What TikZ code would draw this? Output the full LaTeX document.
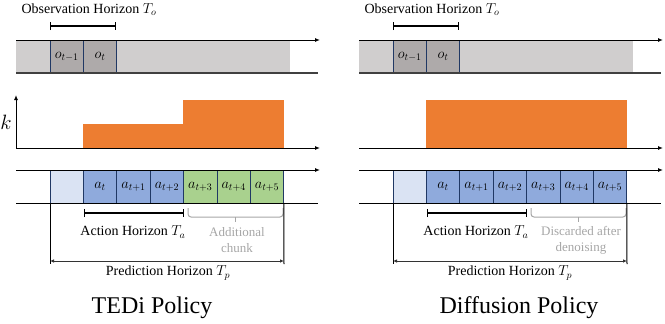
\documentclass[tikz,border=0pt]{standalone}
\usepackage{xcolor}
\usepackage{fontspec}
\setmainfont{Liberation Serif}
\usepackage{tikz}
\usetikzlibrary{arrows.meta,calc,positioning}
\definecolor{stripgray}{HTML}{D0CECE}
\definecolor{obsgray}{HTML}{AEAAAA}
\definecolor{navy}{HTML}{203864}
\definecolor{kfill}{HTML}{ED7D31}
\definecolor{actblue}{HTML}{8FAADC}
\definecolor{paleblue}{HTML}{DAE3F3}
\definecolor{actgreen}{HTML}{A9D18E}
\definecolor{notegray}{HTML}{A6A6A6}

\begin{document}
\begin{tikzpicture}[
        x=1pt, y=-1pt,
        font=\rmfamily\fontsize{14}{17}\selectfont,
        strip/.style={
            fill=stripgray,
            minimum width=274pt,
            minimum height=33pt,
            inner sep=0pt,
            outer sep=0pt,
            anchor=north west
        },
        cell/.style={
            draw=navy,
            line width=0.9pt,
            minimum width=33.4pt,
            minimum height=33pt,
            inner sep=0pt,
            outer sep=0pt,
            font=\fontsize{14.5}{16}\selectfont
        },
        obscell/.style={cell, fill=obsgray},
        fadecell/.style={cell, fill=paleblue},
        actcell/.style={cell, fill=actblue},
        chunkcell/.style={cell, fill=actgreen},
        kblock/.style={
            fill=kfill,
            inner sep=0pt,
            outer sep=0pt,
            anchor=south west
        },
        timeline/.style={
            -{Latex[length=5pt,width=4pt]},
            line width=1pt
        },
        baseline/.style={
            draw=black!75,
            line width=2pt
        },
        span/.style={
            {Bar[width=8pt]}-{Bar[width=8pt]},
            line width=1.2pt
        },
        chunkbrace/.style={
            draw=notegray,
            line width=1pt,
            rounded corners=3pt
        },
        predarrow/.style={
            {Latex[length=4pt,width=3.5pt]}-{Latex[length=4pt,width=3.5pt]},
            draw=black!80,
            line width=1pt
        },
        note/.style={
            text=notegray,
            align=center,
            font=\rmfamily\fontsize{13}{16}\selectfont
        },
        title/.style={font=\rmfamily\fontsize{24}{28}\selectfont}
    ]

        \useasboundingbox (0,0) rectangle (665,324);

        % ===== TEDi Policy =====
        % Beobachtungen
        \node[strip] (tedi-strip) at (16,40) {};
        \node[obscell, anchor=west] (tedi-o1) at (50,56.5) {$o_{t-1}$};
        \node[obscell, right=0pt of tedi-o1] (tedi-o2) {$o_t$};

        \coordinate (tedi-top-r) at (320,40);
        \coordinate (tedi-bot-r) at (318,73);
        \draw[timeline] (tedi-strip.north west) -- (tedi-top-r);
        \draw[baseline] (tedi-strip.south west) -- (tedi-bot-r);

        \coordinate (tedi-obs-l) at (50,26);
        \coordinate (tedi-obs-r) at (116,26);
        \draw[span] (tedi-obs-l) -- (tedi-obs-r);
        \node (tedi-obs-label) at (89,10) {Observation Horizon $T_o$};

        % Rauschniveau k
        \node[kblock, minimum width=100pt, minimum height=24pt]
            (tedi-k1) at (83,148) {};
        \node[kblock, minimum width=101pt, minimum height=48pt]
            (tedi-k2) at (183,148) {};

        \coordinate (tedi-origin) at (16,148);
        \coordinate (tedi-kx) at (320,148);
        \coordinate (tedi-ky) at (16,95);
        \draw[timeline] (tedi-origin) -- (tedi-kx);
        \draw[timeline] (tedi-origin) -- (tedi-ky);
        \node[font=\fontsize{21}{24}\selectfont] (tedi-k) at (6,122) {$k$};

        % Aktionen
        \node[fadecell, anchor=west] (tedi-a0) at (50,186.5) {};
        \node[actcell, right=0pt of tedi-a0] (tedi-a1) {$a_t$};
        \node[actcell, right=0pt of tedi-a1] (tedi-a2) {$a_{t+1}$};
        \node[actcell, right=0pt of tedi-a2] (tedi-a3) {$a_{t+2}$};
        \node[chunkcell, right=0pt of tedi-a3] (tedi-a4) {$a_{t+3}$};
        \node[chunkcell, right=0pt of tedi-a4] (tedi-a5) {$a_{t+4}$};
        \node[chunkcell, right=0pt of tedi-a5] (tedi-a6) {$a_{t+5}$};

        \coordinate (tedi-act-l) at (16,170);
        \coordinate (tedi-act-r) at (320,170);
        \coordinate (tedi-act-bl) at (16,203);
        \coordinate (tedi-act-br) at (318,203);
        \draw[timeline] (tedi-act-l) -- (tedi-act-r);
        \draw[line width=1pt] (tedi-act-bl) -- (tedi-act-br);

        \coordinate (tedi-ah-l) at (84,213);
        \coordinate (tedi-ah-r) at (184,213);
        \draw[span] (tedi-ah-l) -- (tedi-ah-r);
        \node (tedi-ah-label) at (133,232) {Action Horizon $T_a$};

        \coordinate (tedi-cb-l) at (188,208);
        \coordinate (tedi-cb-m) at (235,217);
        \coordinate (tedi-cb-r) at (283,208);
        \coordinate (tedi-cb-t) at (235,222);
        \draw[chunkbrace] (tedi-cb-l) |- (tedi-cb-m) -| (tedi-cb-r);
        \draw[chunkbrace] (tedi-cb-m) -- (tedi-cb-t);
        \node[note] (tedi-chunk) at (237,240) {Additional\\chunk};

        % Vorhersagehorizont
        \coordinate (tedi-ph-l) at (50,264);
        \coordinate (tedi-ph-r) at (284,264);
        \draw[line width=1pt] (tedi-a0.south west) -- (tedi-ph-l);
        \draw[line width=1pt] (tedi-a6.south east) -- (tedi-ph-r);
        \coordinate (tedi-pa-l) at (50,261);
        \coordinate (tedi-pa-r) at (284,261);
        \draw[predarrow] (tedi-pa-l) -- (tedi-pa-r);
        \node (tedi-ph-label) at (168,273) {Prediction Horizon $T_p$};

        \node[title] (tedi-title) at (152,308) {TEDi Policy};

        % ===== Diffusion Policy =====
        % Beobachtungen
        \node[strip] (dp-strip) at (359,40) {};
        \node[obscell, anchor=west] (dp-o1) at (393,56.5) {$o_{t-1}$};
        \node[obscell, right=0pt of dp-o1] (dp-o2) {$o_t$};

        \coordinate (dp-top-r) at (663,40);
        \coordinate (dp-bot-r) at (661,73);
        \draw[timeline] (dp-strip.north west) -- (dp-top-r);
        \draw[baseline] (dp-strip.south west) -- (dp-bot-r);

        \coordinate (dp-obs-l) at (393,26);
        \coordinate (dp-obs-r) at (459,26);
        \draw[span] (dp-obs-l) -- (dp-obs-r);
        \node (dp-obs-label) at (432,10) {Observation Horizon $T_o$};

        % Rauschniveau
        \node[kblock, minimum width=201pt, minimum height=48pt]
            (dp-k1) at (426,148) {};
        \coordinate (dp-origin) at (359,148);
        \coordinate (dp-kx) at (663,148);
        \draw[timeline] (dp-origin) -- (dp-kx);

        % Aktionen
        \node[fadecell, anchor=west] (dp-a0) at (393,186.5) {};
        \node[actcell, right=0pt of dp-a0] (dp-a1) {$a_t$};
        \node[actcell, right=0pt of dp-a1] (dp-a2) {$a_{t+1}$};
        \node[actcell, right=0pt of dp-a2] (dp-a3) {$a_{t+2}$};
        \node[actcell, right=0pt of dp-a3] (dp-a4) {$a_{t+3}$};
        \node[actcell, right=0pt of dp-a4] (dp-a5) {$a_{t+4}$};
        \node[actcell, right=0pt of dp-a5] (dp-a6) {$a_{t+5}$};

        \coordinate (dp-act-l) at (359,170);
        \coordinate (dp-act-r) at (663,170);
        \coordinate (dp-act-bl) at (359,203);
        \coordinate (dp-act-br) at (661,203);
        \draw[timeline] (dp-act-l) -- (dp-act-r);
        \draw[line width=1pt] (dp-act-bl) -- (dp-act-br);

        \coordinate (dp-ah-l) at (427,213);
        \coordinate (dp-ah-r) at (527,213);
        \draw[span] (dp-ah-l) -- (dp-ah-r);
        \node (dp-ah-label) at (476,232) {Action Horizon $T_a$};

        \coordinate (dp-cb-l) at (531,208);
        \coordinate (dp-cb-m) at (578,217);
        \coordinate (dp-cb-r) at (626,208);
        \coordinate (dp-cb-t) at (578,222);
        \draw[chunkbrace] (dp-cb-l) |- (dp-cb-m) -| (dp-cb-r);
        \draw[chunkbrace] (dp-cb-m) -- (dp-cb-t);
        \node[note] (dp-chunk) at (581,240) {Discarded after\\denoising};

        % Vorhersagehorizont
        \coordinate (dp-ph-l) at (393,264);
        \coordinate (dp-ph-r) at (627,264);
        \draw[line width=1pt] (dp-a0.south west) -- (dp-ph-l);
        \draw[line width=1pt] (dp-a6.south east) -- (dp-ph-r);
        \coordinate (dp-pa-l) at (393,261);
        \coordinate (dp-pa-r) at (627,261);
        \draw[predarrow] (dp-pa-l) -- (dp-pa-r);
        \node (dp-ph-label) at (510,273) {Prediction Horizon $T_p$};

        \node[title] (dp-title) at (519,308) {Diffusion Policy};

    \end{tikzpicture}
\end{document}
